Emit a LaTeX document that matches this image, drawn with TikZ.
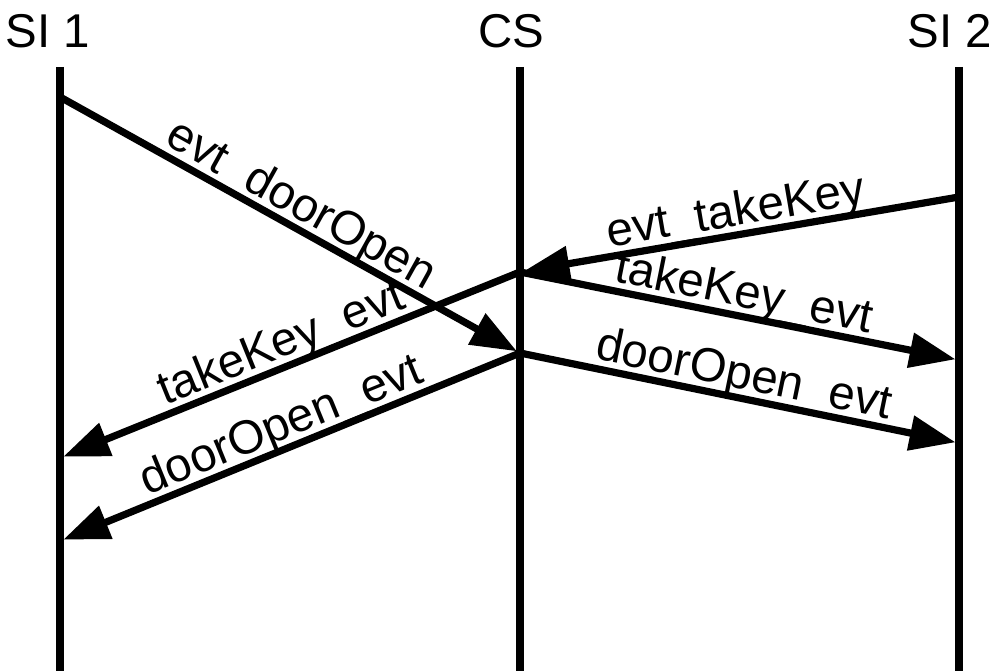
\documentclass[tikz,border=0pt]{standalone}
\usepackage{fontspec}
\setmainfont{Liberation Sans}
\usetikzlibrary{arrows.meta}

\begin{document}
\begin{tikzpicture}[x=0.02cm,y=-0.02cm,line width=4.1pt,
    msg/.style={-{Triangle[length=0.92cm,width=0.68cm]},shorten >=2pt},
    msglabel/.style={sloped,anchor=south,text depth=0pt,inner xsep=0pt,inner ysep=3.2pt,font=\fontsize{27}{32}\selectfont},
    head/.style={anchor=base,inner sep=0pt,font=\fontsize{27}{32}\selectfont}]
    \useasboundingbox (0,0) rectangle (999,671);

    % the three lifelines with their names
    \foreach \n/\x/\lx/\t in {si1/60/48/SI 1,cs/520/511/CS,si2/959/950/SI 2}{
      \node[head] (\n) at (\lx,48) {\t};
      \coordinate (\n top) at (\x,67);
      \coordinate (\n bot) at (\x,671);
      \draw (\n top) -- (\n bot);
    }

    % points where the messages leave and arrive
    \coordinate (si1 open)     at (60,97);
    \coordinate (si2 take)     at (959,197);
    \coordinate (cs take)      at (520,272);
    \coordinate (cs open)      at (520,353);
    \coordinate (si1 take in)  at (60,458);
    \coordinate (si1 open in)  at (60,541);
    \coordinate (si2 take in)  at (959,360);
    \coordinate (si2 open in)  at (959,443);

    \draw[msg] (si1 open) -- node[msglabel] {evt\_doorOpen} (cs open);
    \draw[msg] (si2 take) -- node[msglabel] {evt\_takeKey} (cs take);
    \draw[msg] (cs take) -- node[msglabel] {takeKey\_evt} (si1 take in);
    \draw[msg] (cs take) -- node[msglabel] {takeKey\_evt} (si2 take in);
    \draw[msg] (cs open) -- node[msglabel] {doorOpen\_evt} (si2 open in);
    \draw[msg] (cs open) -- node[msglabel] {doorOpen\_evt} (si1 open in);
%    \draw[msg] (cs open) -- (si1 open in);
\end{tikzpicture}
\end{document}
